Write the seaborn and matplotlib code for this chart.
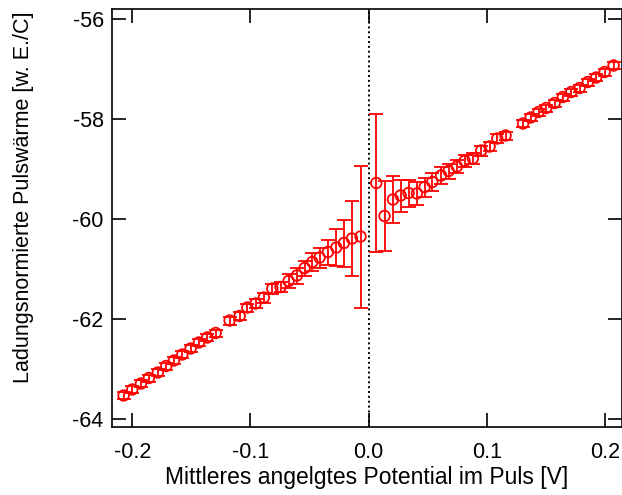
import matplotlib
matplotlib.use("Agg")
import matplotlib.pyplot as plt
import numpy as np
import pandas as pd
import seaborn as sns

# mean applied potential [V]
potential = [-0.2073, -0.1999, -0.1926, -0.1859, -0.1783, -0.1712, -0.1647, -0.1576,
             -0.1506, -0.1436, -0.1365, -0.1294,
             -0.1176, -0.1091, -0.1026, -0.0956, -0.0886, -0.0815, -0.0745, -0.0677,
             -0.0607, -0.0541, -0.0476, -0.0415, -0.0344, -0.0273, -0.0209, -0.0141,
             -0.0068,
             0.0065, 0.0135, 0.0206, 0.0271, 0.0338, 0.0409, 0.0474, 0.0539, 0.0613,
             0.0677, 0.0747, 0.0812, 0.0882, 0.0953, 0.1024, 0.1089, 0.1159,
             0.1307, 0.1371, 0.1438, 0.1503, 0.1574, 0.1644, 0.1715, 0.1785, 0.1855,
             0.1926, 0.1997, 0.2073]

# charge normalised pulse heat [arb. u./C]
heat = [-63.53, -63.41, -63.29, -63.18, -63.07, -62.94, -62.83, -62.71,
        -62.59, -62.47, -62.37, -62.28,
        -62.03, -61.94, -61.77, -61.69, -61.57, -61.39, -61.36, -61.24,
        -61.13, -60.98, -60.86, -60.77, -60.66, -60.57, -60.48, -60.39,
        -60.35,
        -59.28, -59.94, -59.61, -59.53, -59.48, -59.49, -59.36, -59.26, -59.13,
        -59.04, -58.95, -58.84, -58.79, -58.63, -58.55, -58.39, -58.33,
        -58.09, -57.97, -57.86, -57.78, -57.68, -57.56, -57.46, -57.38, -57.26,
        -57.17, -57.06, -56.93]

heat_err = [0.07, 0.07, 0.07, 0.07, 0.07, 0.07, 0.07, 0.07,
            0.07, 0.07, 0.07, 0.07,
            0.08, 0.08, 0.08, 0.09, 0.10, 0.10, 0.10, 0.14,
            0.16, 0.15, 0.18, 0.20, 0.25, 0.37, 0.47, 0.75,
            1.42,
            1.38, 0.70, 0.47, 0.32, 0.27, 0.23, 0.19, 0.18, 0.17,
            0.15, 0.13, 0.12, 0.11, 0.10, 0.09, 0.09, 0.08,
            0.07, 0.07, 0.07, 0.07, 0.07, 0.07, 0.07, 0.07, 0.07,
            0.07, 0.07, 0.07]

x_ticks = [-0.2, -0.1, 0.0, 0.1, 0.2]
y_ticks = [-64, -62, -60, -58, -56]

df = pd.DataFrame({"U": potential, "Q": heat, "err": heat_err})

sns.set_theme(style="ticks")
plt.rcParams["font.family"] = ["Liberation Sans", "DejaVu Sans"]
plt.rcParams["text.color"] = "black"
plt.rcParams["axes.labelcolor"] = "black"

fig = plt.figure(figsize=(6.22, 4.95), dpi=100)
ax = fig.add_axes([112 / 622, 68 / 495, 510 / 622, 418 / 495])

red = "#ff0000"
ax.axvline(0, color="black", lw=1.4, ls=(0, (1, 1.5)), zorder=1)
ax.errorbar(df["U"], df["Q"], yerr=df["err"], fmt="none", ecolor=red,
            elinewidth=1.3, capsize=5.2, capthick=1.3, zorder=2)
sns.scatterplot(data=df, x="U", y="Q", ax=ax, marker="o", s=58,
                facecolor="none", edgecolor=red, linewidth=1.3, zorder=3)

ax.set_xlim(-0.2171, 0.2144)
ax.set_ylim(-64.16, -55.8)
ax.set_xticks(x_ticks)
ax.set_xticklabels(["-0.2", "-0.1", "0.0", "0.1", "0.2"])
ax.set_yticks(y_ticks)
ax.set_yticklabels([str(v) for v in y_ticks])
ax.tick_params(direction="in", length=10, width=1.2, top=True, right=True,
               labelsize=15.5, colors="black")
ax.tick_params(axis="x", pad=11)
ax.tick_params(axis="y", pad=6)
for sp in ax.spines.values():
    sp.set_linewidth(1.2)
    sp.set_color("black")

ax.set_xlabel("Mittleres angelgtes Potential im Puls [V]", fontsize=16.5,
              labelpad=2, color="black")
ax.set_ylabel("Ladungsnormierte Pulswärme [w. E./C]", fontsize=15.5, color="black")
ax.yaxis.set_label_coords(-0.152, 0.55)

fig.savefig("out.png", dpi=100)
